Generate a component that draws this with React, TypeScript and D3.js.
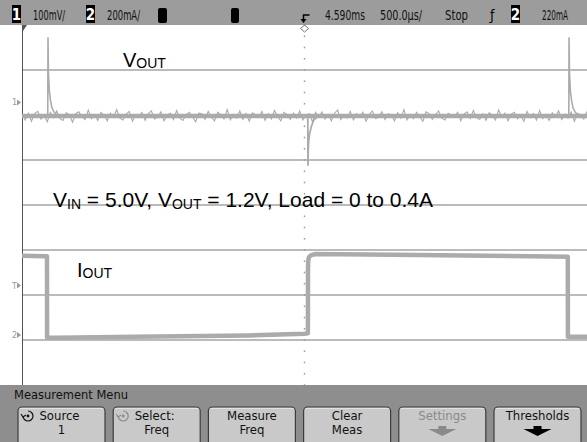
import React from "react";
import * as d3 from "d3";

const W = 587;
const H = 442;

// scope settings
const ch1MvPerDiv = 100;
const ch2MaPerDiv = 200;
const ch1Pos = 1.98; // divisions above centre for the 1.2V level
const ch1MarkerMv = 30;
const ch2ZeroDiv = -2.89;
const trigLevelMa = 220;
const timeSpanMs = [-2.5, 2.5]; // 500us/div around the trigger

// VOUT ripple (mV deviation from 1.2V), evenly spread across the screen
const voutNoise = [
  4, -9, 6, -12, 5, 10, -7, 2, -13, 8, -4, 11, -6, -10, 7, 3, -14, 5, 9, -2, -8, 13, -6, 3, -10, 8, 2, -11, 6, -3,
  14, -5, -9, 4, 10, -12, 3, -2, 8, -10, 5, 11, -7, -3, 9, -11, 2, 6, -8, 12, -5, -10, 3, 8, -2, -13, 6, 5, -8, 10,
  -3, -11, 8, 2, -7, 14, -9, 3, -5, 11, -8, 5, -12, 7, 2, -4, 10, -10, 5, -7, 12, -2, -11, 8, 3, -8, 6, -5, 11, -9,
  2, 5, -13, 8, -3, 9, -7, 3, -11, 6, 13, -8, 2, -5, 10, -9, 5, -2, 8, -12, 3, 11, -6, -3, 9, -8, 5, 2, -11, 7,
  -5, 14, -9, 3, -6, 8, -2, -12, 9, 5, -8, 3, 11, -5, -9, 6, 2, -3, 8, -11, 4, 9, -6, 12, -4, -8, 5, -10, 7, 1,
  -9, 13, -3, 6, -11, 4, 8, -7, 2, -12, 10, -4, 5, -9, 12, -6, 3, -10, 7, -2, 11, -8, 4, -5, 9, -12, 6, 2, -7, 10,
];

// VOUT transients at the load steps (ms, mV)
const spike1T = [-2.272, -2.27, -2.266, -2.258, -2.248, -2.235, -2.215, -2.19];
const spike1Mv = [0, 175, 95, 55, 35, 18, 8, 2];
const dipT = [0.029, 0.031, 0.033, 0.037, 0.045, 0.06, 0.08, 0.11, 0.14];
const dipMv = [0, -111, -75, -55, -40, -24, -10, -3, 0];
const spike2T = [2.339, 2.341, 2.345, 2.353, 2.363, 2.376, 2.396, 2.42];
const spike2Mv = [0, 175, 95, 55, 35, 18, 8, 2];

// IOUT load current (ms, mA)
const ioutT = [-2.5, -2.3, -2.279, -2.278, -2.2, -1.5, -0.5, 0.0, 0.03, 0.031, 0.033, 0.037, 0.045, 0.06, 0.1, 1.0, 2.0, 2.33, 2.331, 2.5];
const ioutMa = [352, 350, 350, -12, -12, -8, -2, 6, 8, 300, 330, 342, 350, 355, 360, 356, 350, 348, -8, -8];

const topItems = [
  { text: "100mV/", x: 33, len: 32 },
  { text: "200mA/", x: 107, len: 33 },
  { text: "4.590ms", x: 325, len: 40 },
  { text: "500.0µs/", x: 380, len: 42 },
  { text: "Stop", x: 445, len: 23 },
  { text: "220mA", x: 542, len: 26 },
];

const buttons = [
  { l1: "Source", l2: "1", icon: true, dim: false, arrow: false, dimIcon: false },
  { l1: "Select:", l2: "Freq", icon: true, dim: false, arrow: false, dimIcon: true },
  { l1: "Measure", l2: "Freq", icon: false, dim: false, arrow: false, dimIcon: false },
  { l1: "Clear", l2: "Meas", icon: false, dim: false, arrow: false, dimIcon: false },
  { l1: "Settings", l2: "", icon: false, dim: true, arrow: true, dimIcon: false },
  { l1: "Thresholds", l2: "", icon: false, dim: false, arrow: true, dimIcon: false },
];

const narrow = "'Liberation Sans Narrow', 'DejaVu Sans Condensed', sans-serif";
const arial = "'Liberation Sans', Arial, sans-serif";
const traceColor = "#ababab";
const gridColor = "#a4a4a4";

export default function App() {
  const x = d3.scaleLinear().domain(timeSpanMs).range([22, 587]);
  const yDiv = d3.scaleLinear().domain([-4, 4]).range([385, 25]);
  const y1 = (mv: number) => yDiv(ch1Pos + mv / ch1MvPerDiv);
  const y2 = (ma: number) => yDiv(ch2ZeroDiv + ma / ch2MaPerDiv);

  const noiseT = d3.scaleLinear().domain([0, voutNoise.length - 1]).range(timeSpanMs);
  const line1 = d3.line<[number, number]>().x((d) => x(d[0])).y((d) => y1(d[1]));
  const line2 = d3.line<[number, number]>().x((d) => x(d[0])).y((d) => y2(d[1]));

  const noisePath = line1(voutNoise.map((v, i) => [noiseT(i), v] as [number, number]));
  const basePath = line1(timeSpanMs.map((t) => [t, 0] as [number, number]));
  const s1 = line1(spike1T.map((t, i) => [t, spike1Mv[i]] as [number, number]));
  const s2 = line1(spike2T.map((t, i) => [t, spike2Mv[i]] as [number, number]));
  const dp = line1(dipT.map((t, i) => [t, dipMv[i]] as [number, number]));
  const ip = line2(ioutT.map((t, i) => [t, ioutMa[i]] as [number, number]));

  const gridDivs = d3.range(-3, 4);
  const dots = d3.range(-4, 4.01, 0.25);
  const cx = x(0);

  const marker = (yy: number, label: string) => (
    <g fill="#9a9a9a" fontFamily={narrow} fontSize={9}>
      <text x={12} y={yy + 3}>{label}</text>
      <path d={`M17,${yy - 3} L21,${yy} L17,${yy + 3} Z`} />
    </g>
  );

  return (
    <svg width={W} height={H} style={{ position: "absolute", left: 0, top: 0, background: "#fff" }}>
      <rect x={0} y={0} width={W} height={H} fill="#fff" />

      {/* grid */}
      {gridDivs.map((d) => (
        <line key={d} x1={22} x2={587} y1={yDiv(d)} y2={yDiv(d)} stroke={gridColor} strokeWidth={1.4} />
      ))}
      {dots.map((d) => (
        <line key={d} x1={cx} x2={cx} y1={yDiv(d) - 0.8} y2={yDiv(d) + 0.8} stroke="#9a9a9a" strokeWidth={1.4} />
      ))}
      <line x1={22.5} x2={22.5} y1={25} y2={385} stroke="#555" strokeWidth={1} />

      {/* channel 1 */}
      <path d={basePath || ""} fill="none" stroke={traceColor} strokeWidth={4.5} />
      <path d={noisePath || ""} fill="none" stroke={traceColor} strokeWidth={1.1} />
      <path d={s1 || ""} fill="none" stroke={traceColor} strokeWidth={1.6} />
      <path d={s2 || ""} fill="none" stroke={traceColor} strokeWidth={1.6} />
      <path d={dp || ""} fill="none" stroke={traceColor} strokeWidth={1.8} />

      {/* channel 2 */}
      <path d={ip || ""} fill="none" stroke={traceColor} strokeWidth={4.5} strokeLinejoin="round" />

      {marker(y1(ch1MarkerMv), "1")}
      {marker(y2(trigLevelMa), "T")}
      {marker(y2(0), "2")}

      {/* annotations */}
      <text x={123} y={67} fontFamily={arial} fontSize={20} fill="#000">
        V<tspan fontSize={14} dy={1}>OUT</tspan>
      </text>
      <text x={77} y={277} fontFamily={arial} fontSize={20} fill="#000">
        I<tspan fontSize={14} dy={1}>OUT</tspan>
      </text>
      <text x={53} y={207} fontFamily={arial} fontSize={21} fill="#000">
        V<tspan fontSize={14} dy={2}>IN</tspan>
        <tspan dy={-2}> = 5.0V, V</tspan>
        <tspan fontSize={14} dy={2}>OUT</tspan>
        <tspan dy={-2}> = 1.2V, Load = 0 to 0.4A</tspan>
      </text>

      {/* status line */}
      <rect x={0} y={0} width={W} height={25} fill="#9c9c9c" />
      <rect x={12} y={5} width={9} height={18} fill="#000" />
      <text x={16.5} y={20} textAnchor="middle" fill="#fff" fontFamily={narrow} fontSize={15} fontWeight="bold">1</text>
      <rect x={86} y={5} width={9} height={18} fill="#000" />
      <text x={90.5} y={20} textAnchor="middle" fill="#fff" fontFamily={narrow} fontSize={15} fontWeight="bold">2</text>
      <rect x={158} y={8} width={9} height={15} rx={2} fill="#000" />
      <rect x={231} y={8} width={8} height={15} rx={2} fill="#000" />
      <rect x={511} y={5} width={9} height={18} fill="#000" />
      <text x={515.5} y={20} textAnchor="middle" fill="#fff" fontFamily={narrow} fontSize={15} fontWeight="bold">2</text>
      <text x={490} y={20} fontFamily={narrow} fontSize={14} fill="#000">ƒ</text>
      {topItems.map((it) => (
        <text key={it.text} x={it.x} y={20} textLength={it.len} lengthAdjust="spacingAndGlyphs" fontFamily={narrow} fontSize={14} fill="#111">
          {it.text}
        </text>
      ))}
      {/* trigger position marker */}
      <path d={`M${cx + 5},15 L${cx - 1},15 L${cx - 1},19`} fill="none" stroke="#000" strokeWidth={1.5} />
      <path d={`M${cx - 4},19 L${cx + 2},19 L${cx - 1},23 Z`} fill="#000" />
      <path d={`M${cx},25 L${cx + 4},28.5 L${cx},32 L${cx - 4},28.5 Z`} fill="none" stroke="#777" strokeWidth={1} />
      <path d="M22,25 L27,25 L23,31 Z" fill="#555" />

      {/* menu */}
      <rect x={0} y={385} width={W} height={H - 385} fill="#8e8e8e" />
      <text x={14} y={399} textLength={114} lengthAdjust="spacingAndGlyphs" fontFamily={narrow} fontSize={13} fill="#111">
        Measurement Menu
      </text>
      {buttons.map((b, i) => {
        const bx = 18 + i * 95.2;
        const mid = bx + 43.5;
        const col = b.dim ? "#8a8a8a" : "#111";
        return (
          <g key={b.l1}>
            <rect x={bx} y={407} width={87} height={42} rx={4} fill="#c9c9c9" stroke="#3c3c3c" strokeWidth={1.2} />
            <line x1={bx + 2} x2={bx + 85} y1={408.5} y2={408.5} stroke="#e2e2e2" strokeWidth={1} />
            {b.icon && (
              <g stroke={b.dimIcon ? "#8c8c8c" : "#111"} fill="none" strokeWidth={1.2}>
                <path d={`M${bx + 5},${416} A5,5 0 1 0 ${bx + 10},${411}`} />
                <path d={`M${bx + 3},${414} L${bx + 5},${417} L${bx + 8},${415}`} />
                <circle cx={bx + 10} cy={416} r={0.8} fill={b.dimIcon ? "#8c8c8c" : "#111"} />
              </g>
            )}
            <text x={b.icon ? mid - 2 : mid} y={420} textAnchor="middle" fontFamily={narrow} fontSize={13} fill={col}>
              {b.l1}
            </text>
            {b.l2 && (
              <text x={mid} y={434} textAnchor="middle" fontFamily={narrow} fontSize={13} fill={col}>
                {b.l2}
              </text>
            )}
            {b.arrow && (
              <path
                d={`M${mid - 4},426 L${mid + 4},426 L${mid + 4},429 L${mid + 14},429 L${mid},436 L${mid - 14},429 L${mid - 4},429 Z`}
                fill={b.dim ? "#8a8a8a" : "#000"}
              />
            )}
          </g>
        );
      })}
    </svg>
  );
}
